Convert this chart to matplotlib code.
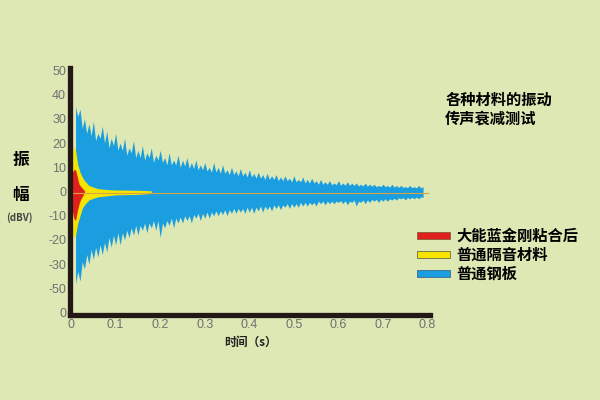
import matplotlib
matplotlib.use("Agg")
import matplotlib.pyplot as plt
from matplotlib.patches import Patch

plt.rcParams["font.family"] = ["Noto Sans CJK SC", "DejaVu Sans"]

BG = "#dde8b4"
BLUE = "#1a9ee0"
YELLOW = "#f7e400"
RED = "#e0201c"
SPINE = "#231815"

# steel plate (blue): spike tips every 0.01 s from 0.01 to 0.79
t_peak = [round(0.01 * i, 3) for i in range(1, 80)]
peak_up = [35, 34, 30, 28, 29, 24, 27, 25, 22, 24,
           20, 22, 18, 21, 17, 19, 16, 18, 15, 17,
           14, 16, 13, 15, 13, 14, 12, 13, 11, 12,
           10, 12, 10, 11, 9, 10, 8.5, 9.5, 8, 9,
           7.5, 8, 7, 7.5, 6.5, 7, 6, 6.5, 5.5, 6.5,
           5, 6, 5, 5.5, 4.5, 5, 4, 4.5, 3.5, 4.5,
           3.5, 4, 3.5, 3.5, 3, 3.5, 3, 3, 2.5, 3,
           2.5, 3, 2.5, 2.5, 2, 2.5, 2, 2.5, 2]
peak_lo = [-38, -37, -32, -30, -28, -27, -26, -25, -23, -22,
           -22, -20, -19, -18, -18, -16, -17, -15, -16, -19,
           -15, -14, -15, -13, -13, -12, -13, -11, -12, -11,
           -11, -10, -10, -9.5, -10, -9, -9, -8.5, -9, -8.5,
           -9, -8, -8.5, -7.5, -8, -7, -7.5, -6.5, -7, -6.5,
           -6.5, -6, -6, -5.5, -6, -5, -5.5, -5, -5, -4.5,
           -5, -5.5, -4.5, -6, -4.5, -5, -4.5, -4, -4.5, -4,
           -4, -3.5, -3.5, -3, -3.5, -3, -3, -3, -2.5]

# steel plate (blue): body level between the spikes, 0.015 .. 0.785
t_body = [round(0.005 + 0.01 * i, 3) for i in range(1, 79)]
body_up = [31, 26, 24, 23, 21, 22, 20, 18, 19, 17,
           17, 15, 16, 14, 14, 13, 14, 12, 13, 12,
           11, 11, 11, 10, 10.5, 9.5, 9.5, 9, 9, 8.5,
           8, 8, 7.5, 7.5, 7, 7, 6.5, 6.5, 6, 6,
           5.5, 5.5, 5, 5, 5, 4.5, 4.5, 4.5, 4, 4,
           4, 3.5, 3.5, 3.5, 3, 3, 3, 2.8, 2.8, 2.6,
           2.6, 2.5, 2.5, 2.3, 2.3, 2.2, 2.2, 2, 2, 2,
           1.8, 1.8, 1.7, 1.7, 1.6, 1.6, 1.5, 1.5]
body_lo = [-33, -29, -26, -24, -23, -22, -21, -19, -18, -17,
           -17, -16, -15, -14, -14, -13, -13, -12, -12, -13,
           -12, -11, -11, -10.5, -10, -10, -9.5, -9, -9, -8.5,
           -8.5, -8, -8, -7.5, -7.5, -7, -7, -7, -6.5, -6.5,
           -6.5, -6, -6, -6, -5.5, -5.5, -5.5, -5, -5, -5,
           -4.5, -4.5, -4.5, -4.5, -4, -4, -4, -4, -4, -3.8,
           -3.8, -4, -3.5, -4, -3.5, -3.5, -3.3, -3.2, -3.2, -3,
           -3, -2.8, -2.6, -2.5, -2.5, -2.4, -2.3, -2.2]

# ordinary damping material (yellow)
t_yel = [0.003, 0.006, 0.01, 0.015, 0.02, 0.025, 0.03, 0.04, 0.05, 0.06,
         0.08, 0.10, 0.12, 0.15, 0.18]
yel_up = [16, 18.5, 17, 11, 8, 6, 4.5, 2.5, 1.8, 1.2, 0.8, 0.6, 0.6, 0.5, 0.3]
yel_lo = [-17, -19, -18, -13, -10, -7, -5.5, -3.5, -2.8, -2.2, -1.8, -1.4, -1.3, -1.2, -0.8]

# after adhesive (red)
t_red = [0.003, 0.006, 0.01, 0.014, 0.018, 0.022, 0.027, 0.03]
red_up = [8, 9, 9, 6, 3, 2, 1, 0.3]
red_lo = [-8, -11, -12, -8, -5, -3, -1.5, -0.3]

x_ticks = [0, 0.1, 0.2, 0.3, 0.4, 0.5, 0.6, 0.7, 0.8]
x_labels = ["0", "0.1", "0.2", "0.3", "0.4", "0.5", "0.6", "0.7", "0.8"]
y_ticks = [-50, -40, -30, -20, -10, 0, 10, 20, 30, 40, 50]
y_labels = ["0", "-50", "-30", "-20", "-10", "0", "10", "20", "30", "40", "50"]

# merge spike tips and body points into one outline
pts_up = sorted(zip(t_peak + t_body, peak_up + body_up))
pts_lo = sorted(zip(t_peak + t_body, peak_lo + body_lo))
t_blue = [p[0] for p in pts_up]
blue_up = [p[1] for p in pts_up]
blue_lo = [p[1] for p in pts_lo]

fig = plt.figure(figsize=(6, 4), dpi=100, facecolor=BG)
ax = fig.add_axes([0.117, 0.2125, 0.6, 0.6175])
ax.set_facecolor(BG)

ax.fill_between(t_blue, blue_lo, blue_up, color=BLUE, lw=0)
ax.plot([0.0, 0.8], [-0.5, -0.5], color="#d9a441", lw=0.8)
ax.fill_between(t_yel, yel_lo, yel_up, color=YELLOW, lw=0)
ax.fill_between(t_red, red_lo, red_up, color=RED, lw=0)

ax.set_xlim(-0.002, 0.806)
ax.set_ylim(-51, 51)
ax.set_xticks(x_ticks)
ax.set_xticklabels(x_labels, family="Liberation Sans")
ax.set_yticks(y_ticks)
ax.set_yticklabels(y_labels, family="Liberation Sans")
ax.tick_params(length=0, labelsize=9, colors="#707070", pad=3)
for s in ["top", "right"]:
    ax.spines[s].set_visible(False)
for s in ["left", "bottom"]:
    ax.spines[s].set_color(SPINE)
    ax.spines[s].set_linewidth(3.8)

ax.set_xlabel("时间（s）", fontsize=8.5, fontweight="bold", color="#222222", labelpad=3)

fig.text(0.035, 0.6, "振", fontsize=12, fontweight="bold", ha="center", va="center")
fig.text(0.035, 0.5125, "幅", fontsize=12, fontweight="bold", ha="center", va="center")
fig.text(0.033, 0.457, "(dBV)", fontsize=7, fontweight="bold", color="#444444",
         ha="center", va="center")

fig.text(0.742, 0.728, "各种材料的振动\n传声衰减测试", fontsize=11, fontweight="bold",
         ha="left", va="center", linespacing=1.2)

handles = [Patch(facecolor=RED, edgecolor="#8a5a3a", lw=0.6),
           Patch(facecolor=YELLOW, edgecolor="#6a6a40", lw=0.6),
           Patch(facecolor=BLUE, edgecolor="#3a6a8a", lw=0.6)]
names = ["大能蓝金刚粘合后", "普通隔音材料", "普通钢板"]
fig.legend(handles, names, loc="upper left", bbox_to_anchor=(0.682, 0.45),
           frameon=False, borderpad=0, handlelength=2.2, handleheight=0.35,
           labelspacing=0.2, handletextpad=0.4, prop={"size": 11, "weight": "bold"})

fig.savefig("out.png", dpi=100, facecolor=BG)
